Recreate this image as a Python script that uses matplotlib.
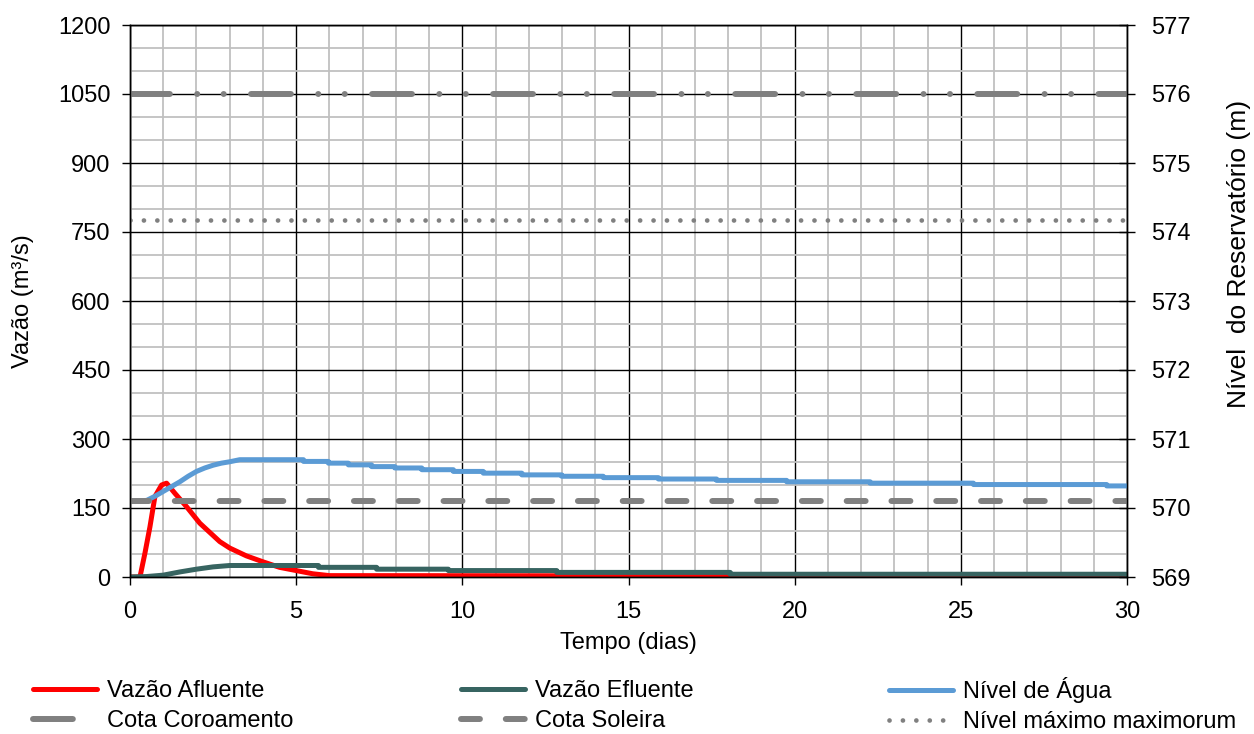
import numpy as np
import matplotlib
matplotlib.use("Agg")
import matplotlib.pyplot as plt
from matplotlib.ticker import MultipleLocator

plt.rcParams['font.family'] = ['Liberation Sans', 'DejaVu Sans']
plt.rcParams['font.size'] = 17

# Hidrograma afluente (m³/s)
t_afluente = [0, 0.3, 0.45, 0.6, 0.75, 0.95, 1.1, 1.35, 1.7, 2.1, 2.7, 3.0, 3.5,
              4.0, 4.5, 5.0, 5.5, 6.0, 30]
q_afluente = [0, 0, 52, 109, 175, 200, 204, 182, 153, 117, 77, 63, 46,
              33, 21, 14, 7, 3, 2]

# Vazão efluente: subida e depois patamares (m³/s)
t_efl_subida = [0, 0.5, 1.0, 1.5, 2.0, 2.5, 3.0]
q_efl_subida = [0, 1, 4, 11, 17, 22, 25]
t_efl_patamar = [3.0, 5.67, 7.42, 9.58, 12.84, 18.06, 30]
q_efl_patamar = [25, 21, 17, 14, 10, 6, 5]

# Nível de água no reservatório (m)
t_nivel_subida = [0, 0.5, 0.75, 1.0, 1.25, 1.5, 1.75, 2.0, 2.25, 2.5, 2.75, 3.0, 3.3]
h_nivel_subida = [570.10, 570.11, 570.17, 570.24, 570.31, 570.38, 570.46, 570.53,
                  570.58, 570.62, 570.65, 570.67, 570.70]
t_nivel_patamar = [3.3, 5.22, 5.97, 6.57, 7.27, 7.97, 8.78, 9.73, 10.63, 11.79,
                   12.99, 14.24, 15.9, 17.65, 19.76, 22.27, 25.38, 29.39, 30]
h_nivel_patamar = [570.70, 570.675, 570.65, 570.625, 570.60, 570.58, 570.555,
                   570.53, 570.505, 570.48, 570.46, 570.44, 570.42, 570.40,
                   570.38, 570.36, 570.34, 570.32, 570.32]

# Cotas de referência (m)
cota_coroamento = 576.0
cota_soleira = 570.1
nivel_max_maximorum = 574.17


def escada(t, v):
    # breakpoints -> stair path (steps-post)
    ts = np.repeat(t, 2)[1:]
    vs = np.repeat(v, 2)[:-1]
    return ts, vs


def junta(t_sub, v_sub, t_pat, v_pat):
    ts, vs = escada(t_pat, v_pat)
    return np.concatenate([t_sub[:-1], ts]), np.concatenate([v_sub[:-1], vs])


t_efl, q_efl = junta(t_efl_subida, q_efl_subida, t_efl_patamar, q_efl_patamar)
t_niv, h_niv = junta(t_nivel_subida, h_nivel_subida, t_nivel_patamar, h_nivel_patamar)

fig = plt.figure(figsize=(12.54, 7.34), dpi=100)
ax = fig.add_axes([130 / 1254, 1 - 577 / 734, 997 / 1254, 552 / 734])
ax2 = ax.twinx()

cinza = '#808080'
lw = 3.6

l_afl, = ax.plot(t_afluente, q_afluente, color='#FF0000', lw=lw,
                 solid_capstyle='round', label='Vazão Afluente')
l_efl, = ax.plot(t_efl, q_efl, color='#376461', lw=lw,
                 solid_capstyle='round', label='Vazão Efluente')

l_niv, = ax2.plot(t_niv, h_niv, color='#5B9BD5', lw=lw,
                  solid_capstyle='round', label='Nível de Água')
l_cor = ax2.axhline(cota_coroamento, color=cinza, lw=4.3,
                    linestyle=(0, (6.67, 4.58, 0.01, 4.42, 0.01, 4.58)),
                    dash_capstyle='round', label='Cota Coroamento')
l_sol = ax2.axhline(cota_soleira, color=cinza, lw=4.3,
                    linestyle=(0, (3.17, 4.33)), dash_capstyle='round',
                    label='Cota Soleira')
l_max = ax2.axhline(nivel_max_maximorum, color=cinza, lw=3.4,
                    linestyle=(0, (0.01, 2.83)), dash_capstyle='round',
                    label='Nível máximo maximorum')

# eixos
ax.set_xlim(0, 30)
ax.set_ylim(0, 1200)
ax2.set_ylim(569, 577)
ax.xaxis.set_major_locator(MultipleLocator(5))
ax.xaxis.set_minor_locator(MultipleLocator(1))
ax.yaxis.set_major_locator(MultipleLocator(150))
ax.yaxis.set_minor_locator(MultipleLocator(50))
ax2.yaxis.set_major_locator(MultipleLocator(1))

ax.grid(which='minor', color='#C0C0C0', lw=1.3)
ax.grid(which='major', color='black', lw=1.0)
ax.set_axisbelow(True)

ax.tick_params(which='minor', length=0)
ax.tick_params(axis='y', which='major', direction='out', length=6, width=1, pad=8)
ax.tick_params(axis='x', which='major', direction='out', length=6, width=1, pad=11.5)
ax2.tick_params(which='major', direction='inout', length=12, width=1, pad=11.5)
ax2.tick_params(which='minor', length=0)

for sp in ax.spines.values():
    sp.set_linewidth(1.0)
for sp in ax2.spines.values():
    sp.set_linewidth(1.0)

ax.set_xlabel('Tempo (dias)', labelpad=6.5)
ax.set_ylabel('Vazão (m³/s)', labelpad=17)
ax2.set_ylabel('Nível  do Reservatório (m)', fontsize=19, labelpad=26)
ax2.yaxis.label.set_y(0.586)

# legenda em três colunas
pares = [((l_afl, l_cor), 32.5, 680), ((l_efl, l_sol), 460.5, 680),
         ((l_niv, l_max), 888.5, 677)]
for hs, x0, y0 in pares:
    fig.legend(handles=list(hs), loc='upper left',
               bbox_to_anchor=(x0 / 1254, 1 - y0 / 734),
               frameon=False, borderpad=0, borderaxespad=0,
               handlelength=2.75, handletextpad=0.4, labelspacing=0.335)

fig.savefig('out.png', dpi=100)
